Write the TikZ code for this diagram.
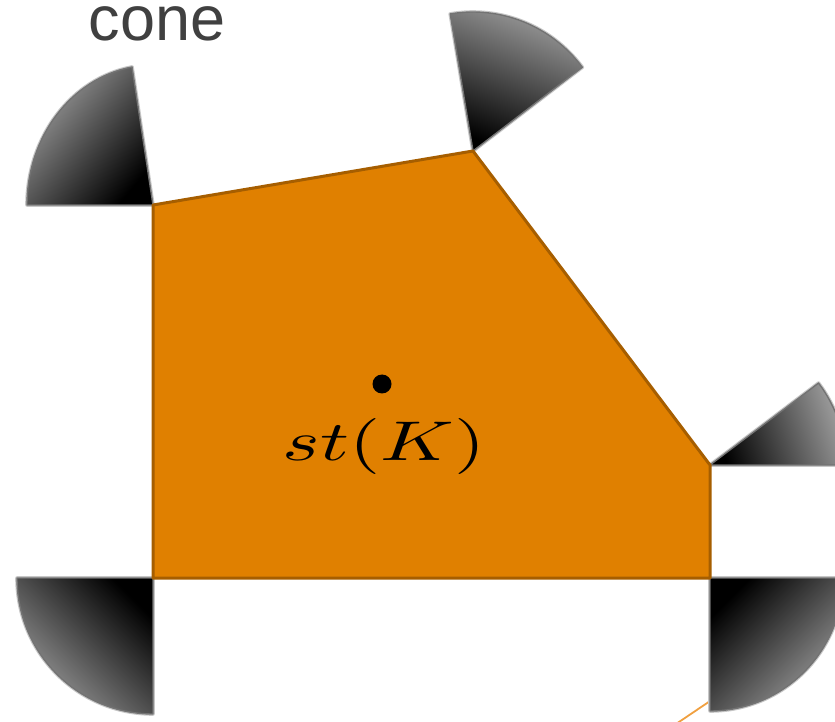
\documentclass[tikz,border=0pt]{standalone}
\usepackage{fontspec}
\newfontfamily\conefont{Liberation Sans}
\definecolor{polyfill}{HTML}{E08000}
\definecolor{polyedge}{HTML}{A65E00}
\definecolor{conetext}{HTML}{404040}
\definecolor{thinline}{HTML}{F0A040}
\newcommand{\drawcone}[6]{% apex, start angle, end angle, x radius, y radius, shading angle
  \path[conehalo] (#1) -- ++({#4*cos(#2)},{#5*sin(#2)}) arc[start angle=#2, end angle=#3, x radius=#4, y radius=#5] -- cycle;
  \path[conefill, shading angle=#6] (#1) -- ++({#4*cos(#2)},{#5*sin(#2)}) arc[start angle=#2, end angle=#3, x radius=#4, y radius=#5] -- cycle;
}
\begin{document}
\begin{tikzpicture}[x=1pt,y=1pt,
  conefill/.style={draw=black!55, line width=1.4pt, line join=round, top color=black!38, bottom color=black},
  conehalo/.style={draw=black!22, line width=3.6pt, line join=round},
  poly/.style={draw=polyedge, fill=polyfill, line width=3pt, line join=round},
  thin/.style={draw=thinline, line width=1.8pt}]
\useasboundingbox (0,0) rectangle (835,721);
\clip (0,0) rectangle (835,721);
% polygon vertices
\coordinate (A) at (153,516);
\coordinate (B) at (473,570);
\coordinate (C) at (710,256);
\coordinate (D) at (710,143);
\coordinate (E) at (153,143);
% thin orange line
\coordinate (l1) at (676,-3);
\coordinate (l2) at (716,24);
\draw[thin] (l1) -- (l2);
% normal cones
\drawcone{A}{99.58}{180}{126}{140}{49.8}
\drawcone{B}{37.05}{99.58}{137}{139}{-21.7}
\drawcone{C}{0}{37.05}{136}{136}{-71.5}
\drawcone{E}{180}{270}{136}{136}{135}
\drawcone{D}{270}{360}{133}{133}{225}
% star polygon
\path[poly] (A) -- (B) -- (C) -- (D) -- (E) -- cycle;
% labels
\node[anchor=base, inner sep=0pt, text=conetext, font=\conefont\fontsize{63}{70}\selectfont] (cone) at (157,680) {cone};
\node[anchor=base, inner sep=0pt, xscale=8.0, yscale=5.6] (st) at (384,260) {$st(K)$};
\fill (382,337) circle[radius=9.5] node (dot) {};
\end{tikzpicture}
\end{document}
